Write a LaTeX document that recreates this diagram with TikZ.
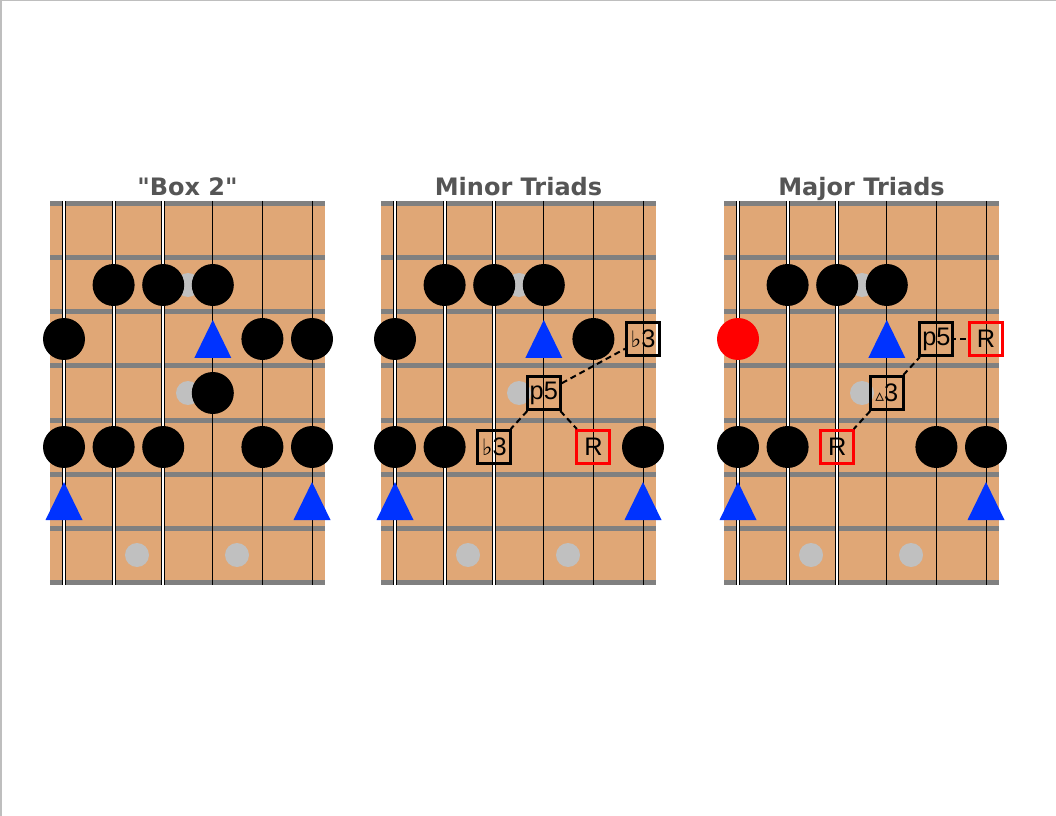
\documentclass[tikz,border=0pt]{standalone}
\usepackage{fontspec}
\newfontfamily\headfont{DejaVu Sans}
\newfontfamily\tonefont{Liberation Sans}
\usetikzlibrary{calc}
\definecolor{wood}{RGB}{224,167,118}
\definecolor{fretgray}{RGB}{128,128,128}
\definecolor{inlaygray}{RGB}{192,192,192}
\definecolor{rootblue}{RGB}{0,51,255}
\definecolor{headgray}{RGB}{85,85,85}
\definecolor{pagegray}{RGB}{190,190,190}
\newcommand\flatsign{{\headfont\fontsize{17}{17}\selectfont ♭}}
\newcommand\majsign{{\headfont\fontsize{13}{13}\selectfont ▵}}

\begin{document}
\begin{tikzpicture}[x=0.75pt, y=-0.75pt,
  note/.style = {shape=circle, fill=black, minimum size=31.5pt, inner sep=0pt},
  rootnote/.style = {note, fill=red},
  inlay/.style = {shape=circle, fill=inlaygray, minimum size=18pt, inner sep=0pt},
  tone/.style = {shape=rectangle, draw=black, line width=2.25pt,
    minimum size=24.75pt, inner sep=0pt,
    font=\tonefont\fontsize{19}{19}\selectfont},
  roottone/.style = {tone, draw=red},
  link/.style = {line width=1.5pt, dash pattern=on 4.5pt off 3pt},
  title/.style = {font=\headfont\bfseries\fontsize{18}{20}\selectfont,
    text=headgray, anchor=base}]

\useasboundingbox (0,0) rectangle (1056,816);
\draw[pagegray, line width=2.25pt] (0,816) -- (0,0) -- (1056,0);

% three fretboards
\foreach \px/\name [count=\p] in {0/"Box 2", 331/Minor Triads, 674/Major Triads} {
  \begin{scope}[shift={(\px,0)}]
    \fill[wood] (50,201) rectangle (325,585);
    \foreach \y in {204,258,...,582}
      \draw[fretgray, line width=3.75pt] (50,\y) -- (325,\y);
    \foreach \x/\w in {64/4.5, 113.6/3.8, 163.2/3.8} {
      \draw[line width=\w*0.75pt] (\x,201) -- (\x,585);
      \draw[white, line width=(\w-2)*0.75pt] (\x,201) -- (\x,585);
    }
    \foreach \x in {212.8, 262.4, 312}
      \draw[line width=0.75pt] (\x,201) -- (\x,585);
    \node[inlay] (in\p a) at (188,285) {};
    \node[inlay] (in\p b) at (188,393) {};
    \node[inlay] (in\p c) at (137,555) {};
    \node[inlay] (in\p d) at (237,555) {};
    \node[title] (title\p) at (187.5,196) {\name};
    \foreach \s in {1,...,6}
      \foreach \r in {1,...,7}
        \coordinate (b\p-\s-\r) at ({64+49.6*(\s-1)},{231+54*(\r-1)});
  \end{scope}
  \foreach \c in {b\p-4-3, b\p-1-6, b\p-6-6}
    \fill[rootblue] ($(\c)+(0,-19)$) -- ($(\c)+(18.5,19)$) -- ($(\c)+(-18.5,19)$) -- cycle;
}

% "Box 2"
\foreach \c in {2-2,3-2,4-2,1-3,5-3,6-3,4-4,1-5,2-5,3-5,5-5,6-5}
  \node[note] (n1-\c) at (b1-\c) {};

% Minor Triads
\foreach \c in {2-2,3-2,4-2,1-3,5-3,1-5,2-5,6-5}
  \node[note] (n2-\c) at (b2-\c) {};
\node[tone] (mi3a) at (b2-6-3) {\flatsign3};
\node[tone] (mi5) at (b2-4-4) {p5};
\node[tone] (mi3b) at (b2-3-5) {\flatsign3};
\node[roottone] (miR) at (b2-5-5) {R};
\draw[link] (mi5) -- (mi3a);
\draw[link] (mi5) -- (mi3b);
\draw[link] (mi5) -- (miR);

% Major Triads
\foreach \c in {2-2,3-2,4-2,1-5,2-5,5-5,6-5}
  \node[note] (n3-\c) at (b3-\c) {};
\node[rootnote] (n3-1-3) at (b3-1-3) {};
\node[tone] (ma5) at (b3-5-3) {p5};
\node[roottone] (maRa) at (b3-6-3) {R};
\node[tone] (ma3) at (b3-4-4) {\majsign3};
\node[roottone] (maRb) at (b3-3-5) {R};
\draw[link, dash phase=3pt] (ma5) -- (maRa);
\draw[link] (ma3) -- (ma5);
\draw[link] (ma3) -- (maRb);
\end{tikzpicture}
\end{document}
